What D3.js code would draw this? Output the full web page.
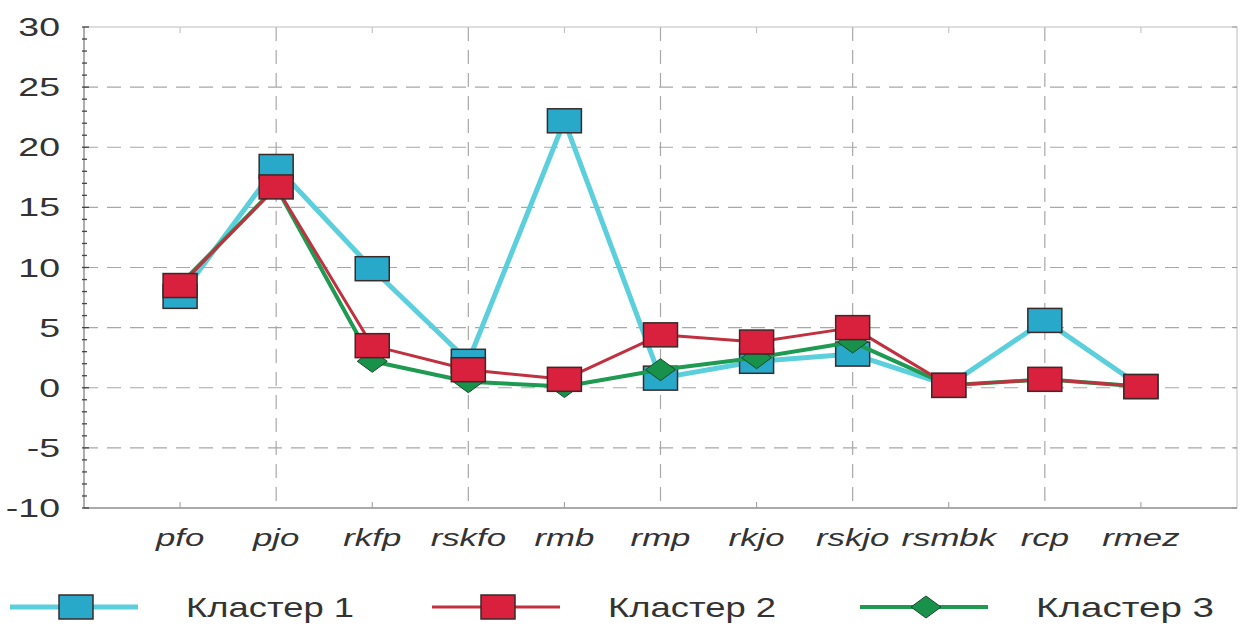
<!DOCTYPE html>
<html>
<head>
<meta charset="utf-8">
<script src="https://cdn.jsdelivr.net/npm/d3@7"></script>
<style>
  body { margin: 0; background: #fff; }
  text { font-family: "Liberation Sans", Arial, sans-serif; fill: #333; }
</style>
</head>
<body>
<div id="chart"></div>
<script>
// categories and values
const categories = ['pfo', 'pjo', 'rkfp', 'rskfo', 'rmb', 'rmp', 'rkjo', 'rskjo', 'rsmbk', 'rcp', 'rmez']
const cluster1 = [7.6, 18.4, 9.9, 2.2, 22.2, 0.8, 2.2, 2.8, 0.2, 5.6, 0.1]
const cluster2 = [8.5, 16.7, 3.5, 1.5, 0.7, 4.4, 3.8, 5.0, 0.2, 0.7, 0.1]
const cluster3 = [8.6, 16.7, 2.2, 0.5, 0.1, 1.5, 2.5, 3.8, 0.2, 0.7, 0.1]
const seriesNames = ['Кластер 1', 'Кластер 2', 'Кластер 3']
const yTicks = [30, 25, 20, 15, 10, 5, 0, -5, -10]

const width = 1246, height = 627
const margin = { top: 27, right: 9, bottom: 119, left: 84 }

const svg = d3.select('#chart').append('svg')
  .attr('width', width)
  .attr('height', height)

const x = d3.scalePoint()
  .domain(categories)
  .range([margin.left, width - margin.right])
  .padding(1)

const y = d3.scaleLinear()
  .domain([-10, 30])
  .range([height - margin.bottom, margin.top])

const x0 = margin.left, x1 = width - margin.right
const yTop = y(30), yBot = y(-10)

// horizontal dashed grid
svg.append('g')
  .selectAll('line')
  .data(yTicks.filter(d => d > -10 && d < 30))
  .join('line')
  .attr('x1', x0).attr('x2', x1)
  .attr('y1', d => y(d)).attr('y2', d => y(d))
  .attr('stroke', '#a8a8a8')
  .attr('stroke-width', 1.2)
  .attr('stroke-dasharray', '14,9')

// vertical dashed grid on every other category
svg.append('g')
  .selectAll('line')
  .data(categories.filter((d, i) => i % 2 === 1))
  .join('line')
  .attr('x1', d => x(d)).attr('x2', d => x(d))
  .attr('y1', yTop).attr('y2', yBot)
  .attr('stroke', '#a8a8a8')
  .attr('stroke-width', 1.2)
  .attr('stroke-dasharray', '14,9')

// small ticks on the other categories
const evenCats = categories.filter((d, i) => i % 2 === 0)
svg.append('g')
  .selectAll('line')
  .data(evenCats)
  .join('line')
  .attr('x1', d => x(d)).attr('x2', d => x(d))
  .attr('y1', yBot - 6).attr('y2', yBot)
  .attr('stroke', '#999')
svg.append('g')
  .selectAll('line')
  .data(evenCats)
  .join('line')
  .attr('x1', d => x(d)).attr('x2', d => x(d))
  .attr('y1', yTop).attr('y2', yTop + 6)
  .attr('stroke', '#bbb')

// frame
svg.append('rect')
  .attr('x', x0).attr('y', yTop)
  .attr('width', x1 - x0).attr('height', yBot - yTop)
  .attr('fill', 'none')
  .attr('stroke', '#c8c8c8')
  .attr('stroke-width', 1.2)
svg.append('line')
  .attr('x1', x0).attr('x2', x1)
  .attr('y1', yBot).attr('y2', yBot)
  .attr('stroke', '#999')
  .attr('stroke-width', 1.4)
svg.append('line')
  .attr('x1', x0).attr('x2', x0)
  .attr('y1', yTop).attr('y2', yBot)
  .attr('stroke', '#999')
  .attr('stroke-width', 1.4)

// minor ticks on left axis
svg.append('g')
  .selectAll('line')
  .data(d3.range(-10, 31, 1))
  .join('line')
  .attr('x1', x0 - 2).attr('x2', d => d % 5 === 0 ? x0 + 5 : x0 + 3)
  .attr('y1', d => y(d)).attr('y2', d => y(d))
  .attr('stroke', '#444')
  .attr('stroke-width', 1.3)

// right axis ticks
svg.append('g')
  .selectAll('line')
  .data(yTicks)
  .join('line')
  .attr('x1', x1 - 5).attr('x2', x1)
  .attr('y1', d => y(d)).attr('y2', d => y(d))
  .attr('stroke', '#999')

// y labels (the source text is stretched sideways)
svg.append('g')
  .selectAll('text')
  .data(yTicks)
  .join('text')
  .attr('transform', d => `translate(60,${y(d)}) scale(1.5,1)`)
  .attr('dy', '0.36em')
  .attr('text-anchor', 'end')
  .attr('font-size', 25)
  .text(d => d)

// x labels
svg.append('g')
  .selectAll('text')
  .data(categories)
  .join('text')
  .attr('transform', d => `translate(${x(d)},${yBot + 38}) scale(1.45,1)`)
  .attr('text-anchor', 'middle')
  .attr('font-size', 24)
  .attr('font-style', 'italic')
  .text(d => d)

// series styles
const series = [
  { name: seriesNames[0], values: cluster1, line: '#5ccfdc', fill: '#28a9c9', lw: 5, shape: 'square' },
  { name: seriesNames[1], values: cluster2, line: '#c1303f', fill: '#d9203c', lw: 3, shape: 'square' },
  { name: seriesNames[2], values: cluster3, line: '#1f9a52', fill: '#18914a', lw: 4, shape: 'diamond' }
]

const lineGen = d3.line()
  .x((d, i) => x(categories[i]))
  .y(d => y(d))

function drawMarker(g, shape, cx, cy, fill) {
  if (shape === 'square') {
    const w = 34, h = 24
    g.append('rect')
      .attr('x', cx - w / 2).attr('y', cy - h / 2)
      .attr('width', w).attr('height', h)
      .attr('fill', fill)
      .attr('stroke', '#3a2a2a')
      .attr('stroke-width', 1.5)
  } else {
    const w = 15, h = 11
    g.append('path')
      .attr('d', `M${cx - w},${cy}L${cx},${cy - h}L${cx + w},${cy}L${cx},${cy + h}Z`)
      .attr('fill', fill)
      .attr('stroke', '#1a4a2a')
      .attr('stroke-width', 1)
  }
}

// draw order: cluster 1, cluster 3, cluster 2
const order = [series[0], series[2], series[1]]
order.forEach(s => {
  const g = svg.append('g')
  g.append('path')
    .datum(s.values)
    .attr('d', lineGen)
    .attr('fill', 'none')
    .attr('stroke', s.line)
    .attr('stroke-width', s.lw)
    .attr('stroke-linejoin', 'round')
  s.values.forEach((v, i) => drawMarker(g, s.shape, x(categories[i]), y(v), s.fill))
})

// legend
const legendX = [10, 432, 860]
const legend = svg.append('g')
series.forEach((s, i) => {
  const lx = legendX[i], ly = 607
  legend.append('line')
    .attr('x1', lx).attr('x2', lx + 128)
    .attr('y1', ly).attr('y2', ly)
    .attr('stroke', s.line)
    .attr('stroke-width', s.lw)
  drawMarker(legend, s.shape, lx + 66, ly, s.fill)
  legend.append('text')
    .attr('x', lx + 176)
    .attr('y', ly)
    .attr('dy', '0.36em')
    .attr('font-size', 28)
    .attr('textLength', i === 2 ? 178 : 168)
    .attr('lengthAdjust', 'spacingAndGlyphs')
    .text(s.name)
})
</script>
</body>
</html>
